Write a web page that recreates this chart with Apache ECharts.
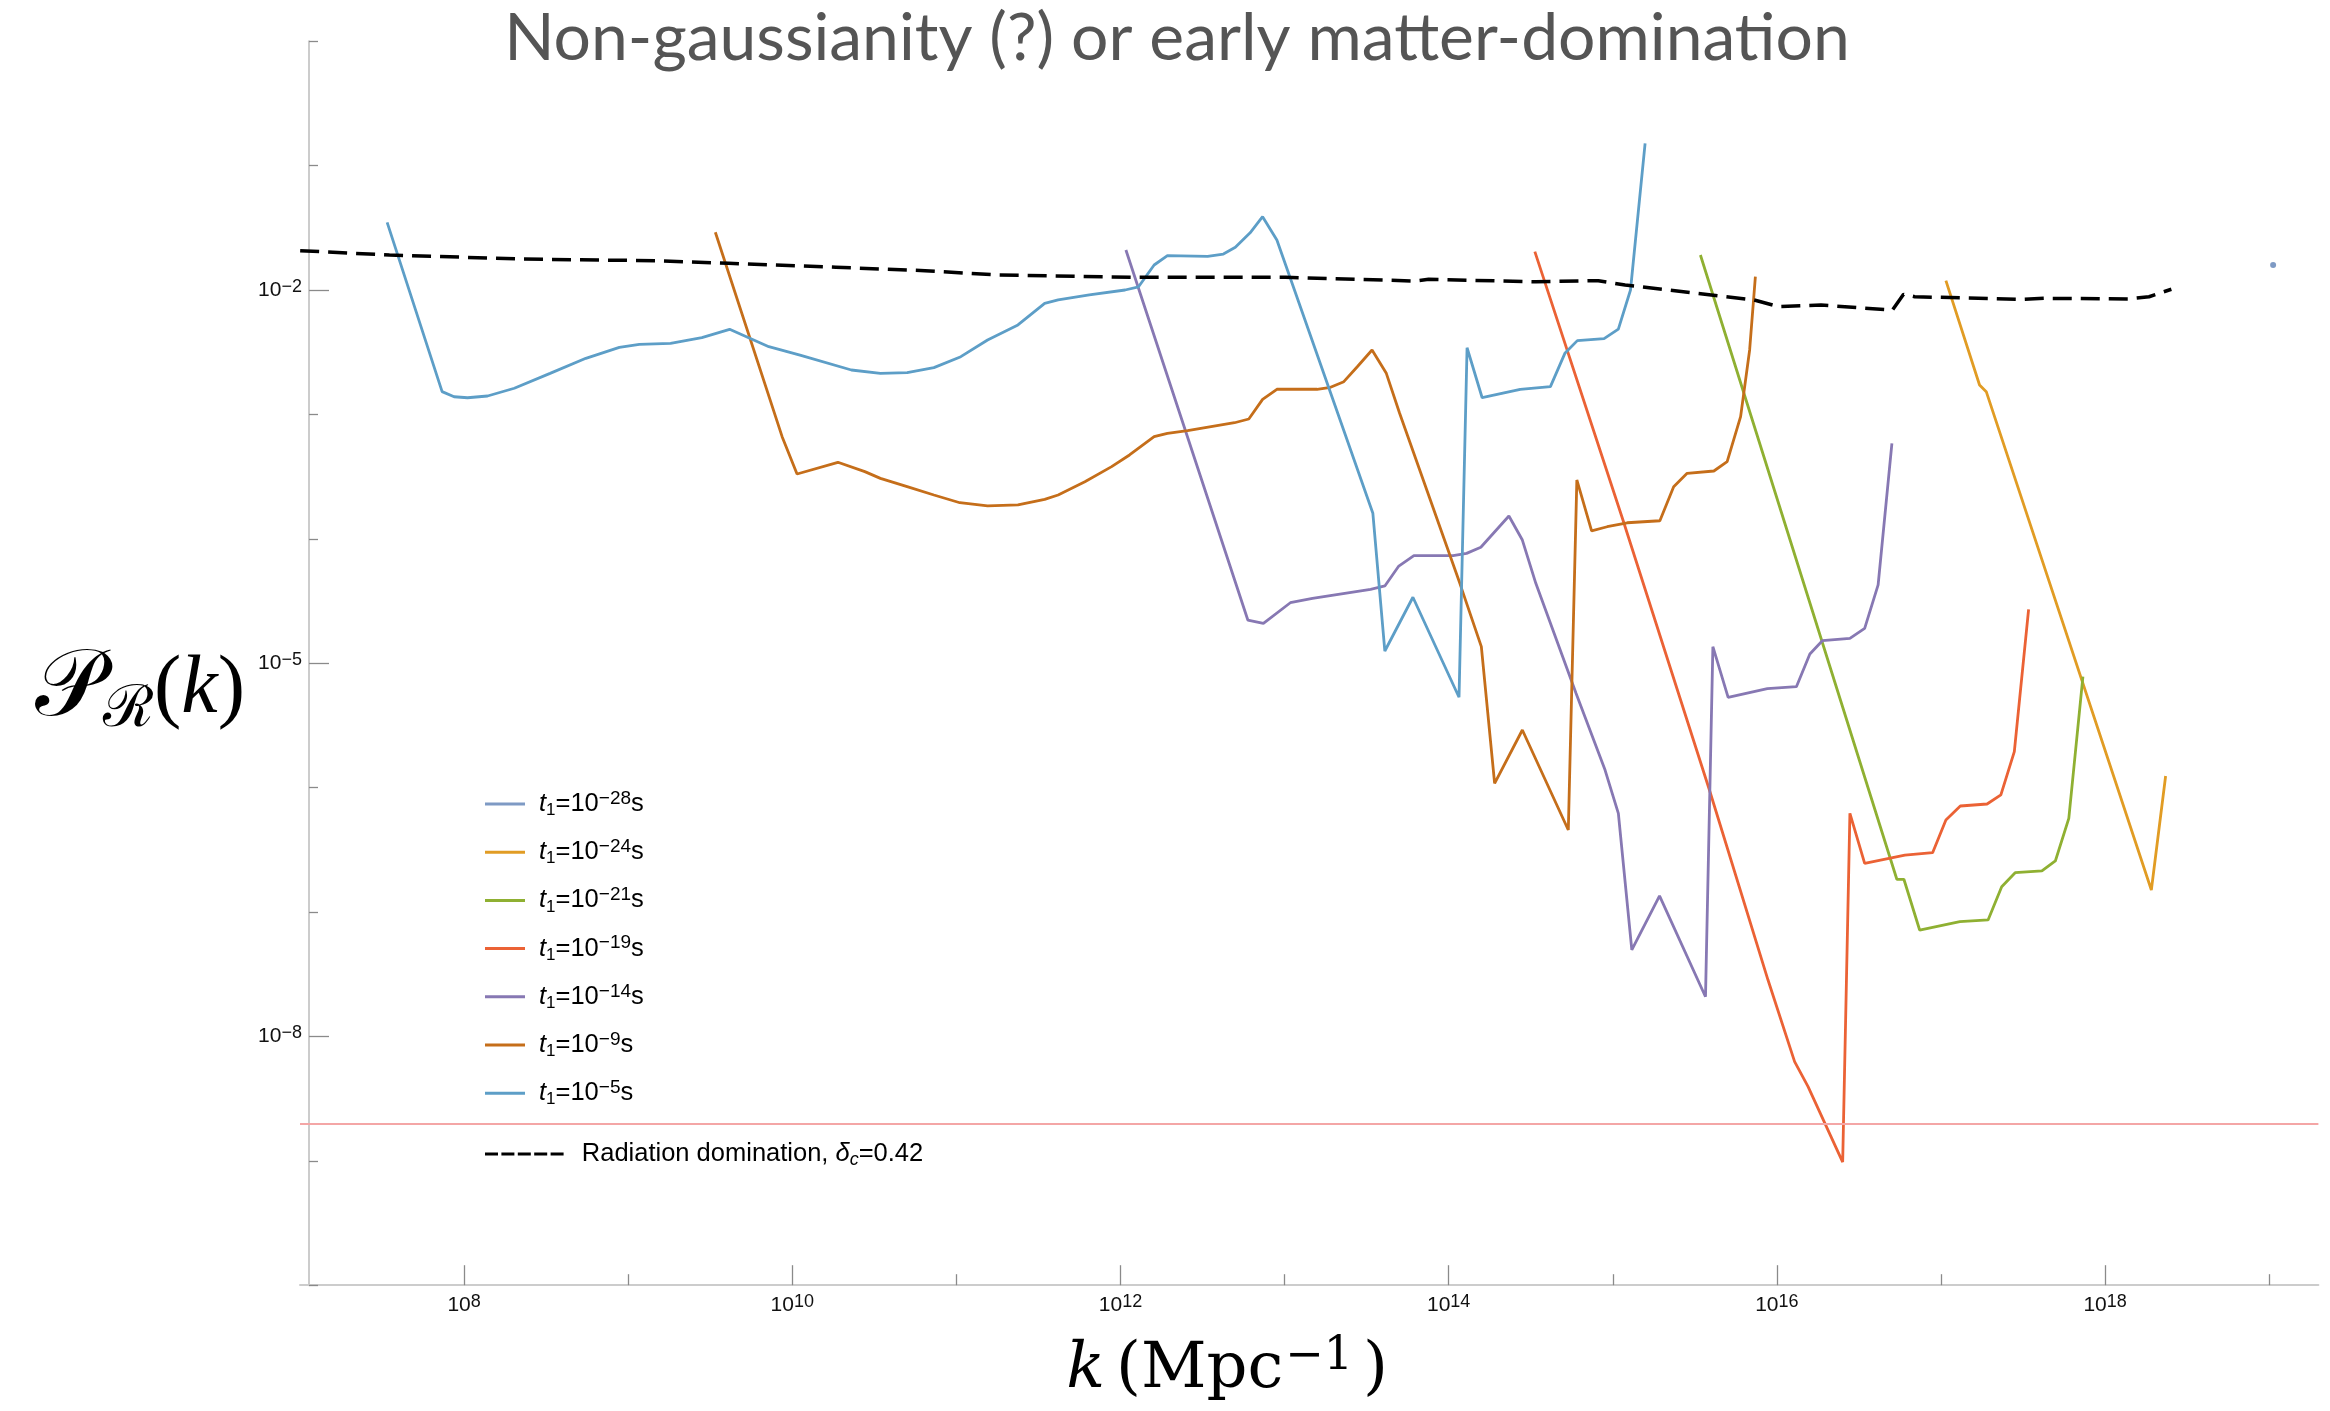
<!DOCTYPE html>
<html><head><meta charset="utf-8">
<script src="https://cdn.jsdelivr.net/npm/echarts@6/dist/echarts.min.js"></script>
<style>html,body{margin:0;padding:0;background:#fff}#c{width:2330px;height:1411px}</style>
</head><body><div id="c"></div>
<script>
// ---- data: log10(k / Mpc^-1) and log10(P_R) ----
const t28_logk = [19.024];
const t28_logP = [-1.799];

const t24_logk = [17.030, 17.235, 17.276, 18.282, 18.369];
const t24_logP = [-1.925, -2.764, -2.817, -6.823, -5.907];

const t21_logk = [15.534, 16.731, 16.774, 16.870, 17.115, 17.287, 17.370, 17.452, 17.615, 17.697, 17.779, 17.865];
const t21_logP = [-1.719, -6.737, -6.737, -7.145, -7.078, -7.064, -6.797, -6.684, -6.670, -6.590, -6.247, -5.108];

const t19_logk = [14.525, 15.062, 15.589, 15.946, 16.108, 16.190, 16.401, 16.445, 16.535, 16.780, 16.949, 17.030, 17.118, 17.281, 17.365, 17.447, 17.534];
const t19_logP = [-1.692, -3.849, -6.019, -7.547, -8.203, -8.404, -9.010, -6.207, -6.609, -6.542, -6.523, -6.260, -6.148, -6.132, -6.059, -5.711, -4.567];

const t14_logk = [12.033, 12.776, 12.871, 13.035, 13.170, 13.524, 13.611, 13.696, 13.788, 14.027, 14.109, 14.196, 14.367, 14.449, 14.531, 14.776, 14.953, 15.034, 15.116, 15.285, 15.565, 15.610, 15.703, 15.942, 16.119, 16.201, 16.277, 16.445, 16.535, 16.617, 16.701];
const t14_logP = [-1.678, -4.653, -4.680, -4.514, -4.479, -4.406, -4.379, -4.219, -4.136, -4.136, -4.117, -4.068, -3.817, -4.010, -4.358, -5.242, -5.859, -6.207, -7.305, -6.871, -7.681, -4.867, -5.274, -5.205, -5.189, -4.926, -4.819, -4.800, -4.720, -4.371, -3.232];

const t9_logk = [9.531, 9.938, 10.029, 10.278, 10.442, 10.537, 10.700, 10.863, 11.021, 11.190, 11.375, 11.538, 11.620, 11.783, 11.946, 12.055, 12.205, 12.286, 12.409, 12.695, 12.782, 12.866, 12.953, 13.198, 13.280, 13.361, 13.443, 13.533, 13.620, 13.701, 13.960, 14.068, 14.199, 14.280, 14.449, 14.729, 14.781, 14.871, 14.966, 15.088, 15.287, 15.371, 15.453, 15.616, 15.697, 15.779, 15.834, 15.869];
const t9_logP = [-1.536, -3.179, -3.479, -3.385, -3.460, -3.514, -3.581, -3.648, -3.710, -3.736, -3.728, -3.683, -3.648, -3.541, -3.420, -3.326, -3.179, -3.152, -3.131, -3.067, -3.037, -2.879, -2.798, -2.798, -2.782, -2.737, -2.617, -2.482, -2.670, -2.991, -3.956, -4.358, -4.867, -5.966, -5.537, -6.341, -3.527, -3.937, -3.903, -3.871, -3.855, -3.581, -3.474, -3.455, -3.380, -3.018, -2.482, -1.893];

const t5_logk = [7.531, 7.866, 7.939, 8.021, 8.143, 8.306, 8.524, 8.742, 8.946, 9.068, 9.258, 9.449, 9.618, 9.857, 10.047, 10.360, 10.537, 10.700, 10.863, 11.027, 11.190, 11.375, 11.538, 11.620, 11.810, 12.028, 12.110, 12.205, 12.286, 12.531, 12.627, 12.700, 12.790, 12.866, 12.953, 13.035, 13.538, 13.611, 13.782, 14.063, 14.112, 14.204, 14.436, 14.620, 14.708, 14.784, 14.947, 15.034, 15.108, 15.197];
const t5_logP = [-1.456, -2.817, -2.858, -2.866, -2.852, -2.790, -2.670, -2.549, -2.461, -2.437, -2.429, -2.383, -2.316, -2.456, -2.523, -2.643, -2.670, -2.664, -2.624, -2.536, -2.402, -2.281, -2.107, -2.080, -2.040, -2.000, -1.974, -1.799, -1.724, -1.729, -1.711, -1.657, -1.540, -1.411, -1.598, -1.906, -3.795, -4.902, -4.470, -5.274, -2.464, -2.866, -2.798, -2.777, -2.509, -2.407, -2.391, -2.314, -2.000, -0.821];

const rad_logk = [7.001, 7.545, 8.361, 9.177, 9.612, 10.265, 10.809, 11.244, 12.082, 13.007, 13.796, 13.878, 14.531, 14.912, 15.075, 15.510, 15.860, 16.010, 16.269, 16.704, 16.772, 16.840, 17.493, 17.629, 18.146, 18.268, 18.404];
const rad_logP = [-1.684, -1.719, -1.751, -1.765, -1.785, -1.817, -1.845, -1.879, -1.898, -1.898, -1.928, -1.914, -1.934, -1.925, -1.960, -2.027, -2.080, -2.134, -2.121, -2.161, -2.035, -2.054, -2.075, -2.067, -2.072, -2.054, -1.994];

const cmbLevel = -8.70;   // horizontal reference line (log10 P)

const seriesNames = ['t1=1e-28 s', 't1=1e-24 s', 't1=1e-21 s', 't1=1e-19 s', 't1=1e-14 s', 't1=1e-9 s', 't1=1e-5 s'];
const seriesExps = ['−28', '−24', '−21', '−19', '−14', '−9', '−5'];
const radName = 'Radiation domination, δc=0.42';

const xMajorTicks = [8, 10, 12, 14, 16, 18];
const xMinorTicks = [9, 11, 13, 15, 17, 19];
const yMajorTicks = [-2, -5, -8];
const yMinorTicks = [0, -1, -3, -4, -6, -7, -9, -10];

const titleText = 'Non-gaussianity (?) or early matter-domination';

// ---- build ----
const zip = (a, b) => a.map((v, i) => [v, b[i]]);
const colors = ['#5E81B5', '#E19C24', '#8FB032', '#EB6235', '#8778B3', '#C56E1A', '#5D9EC7'];
const lineData = [
  zip(t28_logk, t28_logP), zip(t24_logk, t24_logP), zip(t21_logk, t21_logP),
  zip(t19_logk, t19_logP), zip(t14_logk, t14_logP), zip(t9_logk, t9_logP), zip(t5_logk, t5_logP)
];
const SANS = "'Liberation Sans', Arial, Helvetica, sans-serif";
const SERIF = "'Liberation Serif', 'DejaVu Serif', 'Times New Roman', serif";
const WSERIF = "'DejaVu Serif', 'Liberation Serif', serif";

const series = [];
lineData.forEach((d, i) => {
  if (i === 0) {
    series.push({ name: seriesNames[i], type: 'scatter', data: d, symbolSize: 6,
      itemStyle: { color: colors[i] }, z: 3 });
  } else {
    series.push({ name: seriesNames[i], type: 'line', data: d, symbol: 'none', showSymbol: false,
      lineStyle: { color: colors[i], width: 2.8 }, itemStyle: { color: colors[i] }, z: 3 });
  }
});
series.push({ name: radName, type: 'line', data: zip(rad_logk, rad_logP), symbol: 'none', showSymbol: false,
  lineStyle: { color: '#000', width: 3.5, type: [19, 9] }, itemStyle: { color: '#000' }, z: 4 });
series.push({ name: 'cmb', type: 'line', data: [], symbol: 'none',
  markLine: { silent: true, symbol: 'none', label: { show: false },
    lineStyle: { color: '#f4a6a6', width: 2, type: 'solid' }, data: [{ yAxis: cmbLevel }] }, z: 2 });

const tickRich = {
  b: { fontFamily: SANS, fontSize: 21, lineHeight: 24, color: '#111', verticalAlign: 'middle' },
  s: { fontFamily: SANS, fontSize: 18, lineHeight: 12, color: '#111', verticalAlign: 'top' }
};
const expFmt = v => '{b|10}{s|' + String(v).replace('-', '−') + '}';

const legRich = {
  it: { fontFamily: SANS, fontStyle: 'italic', fontSize: 25.5, lineHeight: 30, color: '#000', verticalAlign: 'middle' },
  n: { fontFamily: SANS, fontSize: 25.5, lineHeight: 30, color: '#000', verticalAlign: 'middle' },
  sub: { fontFamily: SANS, fontSize: 17, lineHeight: 16, color: '#000', verticalAlign: 'bottom' },
  subi: { fontFamily: SANS, fontStyle: 'italic', fontSize: 18, lineHeight: 16, color: '#000', verticalAlign: 'bottom' },
  sup: { fontFamily: SANS, fontSize: 19, lineHeight: 17, color: '#000', verticalAlign: 'top' }
};
const legendText = {};
seriesNames.forEach((n, i) => { legendText[n] = '{it|t}{sub|1}{n|=10}{sup|' + seriesExps[i] + '}{n|s}'; });
legendText[radName] = '{n|Radiation domination, }{it|δ}{subi|c}{n|=0.42}';

const dashIcon = 'path://M0,0h13v3h-13z M16.4,0h13v3h-13z M32.8,0h13v3h-13z M49.2,0h13v3h-13z M65.6,0h13v3h-13z';

const option = {
  animation: false,
  backgroundColor: '#fff',
  title: {
    text: titleText, left: 1172, top: 1, textAlign: 'center',
    textStyle: { fontFamily: "Lato, 'Open Sans', sans-serif", fontWeight: 'normal', fontSize: 66, color: '#555555' }
  },
  grid: { left: 300, top: 41.2, width: 2018.4, height: 1244, containLabel: false, outerBoundsMode: 'none' },
  legend: [
    { data: seriesNames, orient: 'vertical', left: 485, top: 789, padding: 0, itemGap: 18.2,
      itemWidth: 40, itemHeight: 3, icon: 'rect', selectedMode: false,
      formatter: n => legendText[n], textStyle: { rich: legRich, padding: [0, 0, 0, 9] } },
    { data: [{ name: radName, icon: dashIcon }], orient: 'vertical', left: 485, top: 1141, padding: 0,
      itemWidth: 79, itemHeight: 3, selectedMode: false,
      formatter: n => legendText[n], textStyle: { rich: legRich, padding: [0, 0, 0, 13] } }
  ],
  xAxis: [
    { type: 'value', min: 7.0, max: 19.3, position: 'bottom',
      axisLine: { show: true, onZero: false, lineStyle: { color: '#cccccc', width: 2 } },
      axisTick: { show: true, inside: true, length: 20, customValues: xMajorTicks, lineStyle: { color: '#8a8a8a', width: 1.3 } },
      axisLabel: { show: true, customValues: xMajorTicks, margin: 8, formatter: expFmt, rich: tickRich },
      splitLine: { show: false },
      name: '{k|k}{sp| }{p|(Mpc}{s|−1}{p|)}', nameLocation: 'middle', nameGap: 49,
      nameTextStyle: { padding: [0, 164, 0, 0], rich: {
        k: { fontFamily: WSERIF, fontStyle: 'italic', fontSize: 64, lineHeight: 72, color: '#000', verticalAlign: 'middle' },
        sp: { fontFamily: WSERIF, fontSize: 34, lineHeight: 72, color: '#000', verticalAlign: 'middle' },
        p: { fontFamily: WSERIF, fontSize: 64, lineHeight: 72, color: '#000', verticalAlign: 'middle' },
        s: { fontFamily: WSERIF, fontSize: 46, lineHeight: 44, color: '#000', verticalAlign: 'top', padding: [0, 10, 0, 2] } } } },
    { type: 'value', min: 7.0, max: 19.3, position: 'bottom',
      axisLine: { show: false, onZero: false },
      axisTick: { show: true, inside: true, length: 11, customValues: xMinorTicks, lineStyle: { color: '#8a8a8a', width: 1.3 } },
      axisLabel: { show: false }, splitLine: { show: false } }
  ],
  yAxis: [
    { type: 'value', min: -10, max: 0, position: 'left', offset: -9,
      axisLine: { show: true, onZero: false, lineStyle: { color: '#cccccc', width: 2 } },
      axisTick: { show: true, inside: true, length: 20, customValues: yMajorTicks, lineStyle: { color: '#8a8a8a', width: 1.3 } },
      axisLabel: { show: true, customValues: yMajorTicks, margin: 7, formatter: expFmt, rich: tickRich },
      splitLine: { show: false },
      name: '{P|𝒫}{R|ℛ}{p|(}{k|k}{p|)}', nameLocation: 'middle', nameRotate: 0, nameGap: 64,
      nameTextStyle: { padding: [54, 0, 0, 0], rich: {
        P: { fontFamily: SERIF, fontSize: 94, lineHeight: 100, color: '#000', verticalAlign: 'middle' },
        R: { fontFamily: SERIF, fontSize: 58, lineHeight: 64, color: '#000', verticalAlign: 'bottom' },
        p: { fontFamily: SERIF, fontSize: 82, lineHeight: 100, color: '#000', verticalAlign: 'middle' },
        k: { fontFamily: SERIF, fontStyle: 'italic', fontSize: 82, lineHeight: 100, color: '#000', verticalAlign: 'middle' } } } },
    { type: 'value', min: -10, max: 0, position: 'left', offset: -9,
      axisLine: { show: false, onZero: false },
      axisTick: { show: true, inside: true, length: 9, customValues: yMinorTicks, lineStyle: { color: '#8a8a8a', width: 1.3 } },
      axisLabel: { show: false }, splitLine: { show: false } }
  ],
  series: series
};
const chart = echarts.init(document.getElementById('c'), null, { renderer: 'canvas' });
chart.setOption(option);
</script>
</body></html>
